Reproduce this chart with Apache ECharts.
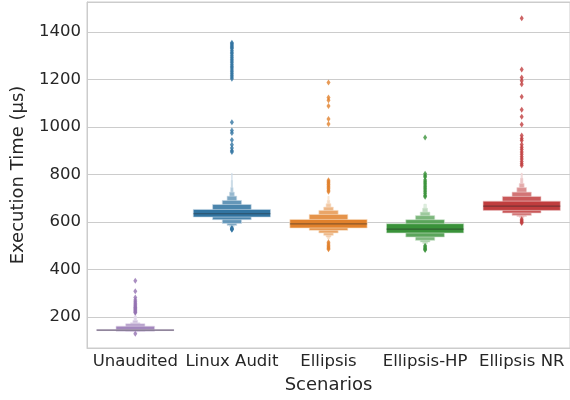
<!DOCTYPE html>
<html><head><meta charset="utf-8">
<script src="https://cdn.jsdelivr.net/npm/echarts@6/dist/echarts.min.js"></script>
<style>html,body{margin:0;padding:0;background:#fff}#c{width:570px;height:400px}</style>
</head><body><div id="c"></div>
<script>
const categories = ['Unaudited', 'Linux Audit', 'Ellipsis', 'Ellipsis-HP', 'Ellipsis NR'];
const palette = ['#9372b2', '#3274a1', '#e1812c', '#3a923a', '#c03d3e'];
const yTicks = [200, 400, 600, 800, 1000, 1200, 1400];
const medians = [145, 635, 592, 570, 667];

// letter values, from the quartiles outward
const unauditedLower = [143, 141, 140, 139, 138, 137, 136];
const unauditedUpper = [148, 162, 172, 176, 186, 203, 215];
const unauditedOutliers = [130, 353, 309, 282, 272, 265, 258, 252, 247, 242, 238, 234, 230, 226, 222, 218];

const linuxLower = [621, 610, 594, 586, 582, 578, 576, 573];
const linuxUpper = [653, 674, 691, 709, 726, 745, 775, 805];
const linuxOutliers = [568, 570, 572, 575, 1355, 1350, 1345, 1340, 1335, 1330, 1322, 1315, 1308, 1300, 1292, 1285, 1278, 1270, 1262, 1255, 1248, 1240, 1232, 1225, 1218, 1210, 1203, 1020, 985, 975, 945, 925, 912, 900, 895];

const ellipsisLower = [575, 565, 554, 544, 537, 531, 527];
const ellipsisUpper = [611, 632, 649, 663, 677, 691, 708];
const ellipsisOutliers = [515, 508, 500, 495, 490, 486, 1187, 1124, 1113, 1088, 1034, 1013, 776, 770, 764, 758, 752, 746, 740, 734, 728];

const hpLower = [554, 537, 523, 516, 510, 506];
const hpUpper = [593, 610, 627, 642, 658, 675];
const hpOutliers = [500, 495, 490, 486, 482, 956, 803, 795, 790, 777, 770, 763, 756, 749, 742, 735, 728, 720, 712, 706];

const nrLower = [649, 638, 628, 624, 620, 618, 616];
const nrUpper = [688, 708, 726, 745, 762, 784, 805];
const nrOutliers = [612, 606, 600, 596, 1458, 1242, 1208, 1195, 1180, 1127, 1073, 1043, 1010, 964, 952, 943, 926, 915, 905, 895, 885, 875, 865, 855, 845, 838];

const lowers = [unauditedLower, linuxLower, ellipsisLower, hpLower, nrLower];
const uppers = [unauditedUpper, linuxUpper, ellipsisUpper, hpUpper, nrUpper];
const outliers = [unauditedOutliers, linuxOutliers, ellipsisOutliers, hpOutliers, nrOutliers];

function mix(hex, t) {
  const r = parseInt(hex.slice(1, 3), 16), g = parseInt(hex.slice(3, 5), 16), b = parseInt(hex.slice(5, 7), 16);
  const f = c => Math.round(c + (255 - c) * t);
  return 'rgb(' + f(r) + ',' + f(g) + ',' + f(b) + ')';
}

// box items: [catIndex, level, lower, upper, nLevels], outermost first so the inner boxes lie on top
const boxData = [];
for (let ci = 0; ci < categories.length; ci++) {
  const k = lowers[ci].length;
  for (let l = k - 1; l >= 0; l--) boxData.push([ci, l, lowers[ci][l], uppers[ci][l], k]);
}
const medianData = medians.map((m, ci) => [ci, m]);

const chart = echarts.init(document.getElementById('c'), null, { renderer: 'canvas' });
const FONT = 'DejaVu Sans';

const series = [
  {
    type: 'custom',
    data: boxData,
    encode: { x: 0, y: [2, 3] },
    z: 2,
    renderItem: function (params, api) {
      const ci = api.value(0), lvl = api.value(1), lo = api.value(2), hi = api.value(3), k = api.value(4);
      const p1 = api.coord([ci, hi]);
      const p2 = api.coord([ci, lo]);
      const band = api.size([1, 0])[0];
      const w = band * 0.8 * Math.pow(0.5, lvl);
      const t = k > 1 ? 0.85 * lvl / (k - 1) : 0;
      return {
        type: 'rect',
        shape: { x: p1[0] - w / 2, y: p1[1], width: w, height: Math.max(p2[1] - p1[1], 1) },
        style: { fill: mix(palette[ci], t), stroke: mix(palette[ci], 0.75), lineWidth: 0.6 }
      };
    }
  },
  {
    type: 'custom',
    data: medianData,
    encode: { x: 0, y: 1 },
    z: 3,
    renderItem: function (params, api) {
      const p = api.coord([api.value(0), api.value(1)]);
      const band = api.size([1, 0])[0];
      const w = band * 0.8;
      return {
        type: 'line',
        shape: { x1: p[0] - w / 2, y1: p[1], x2: p[0] + w / 2, y2: p[1] },
        style: { stroke: 'rgba(38,38,38,0.45)', lineWidth: 1.2 }
      };
    }
  }
];
outliers.forEach((arr, ci) => {
  series.push({
    type: 'scatter',
    data: arr.map(v => [ci, v]),
    symbol: 'diamond',
    symbolSize: [4, 6],
    itemStyle: { color: palette[ci] },
    z: 4,
    silent: true
  });
});

chart.setOption({
  animation: false,
  grid: { left: 87, right: -1, top: 2, bottom: 52, show: true, borderColor: '#cccccc', borderWidth: 1 },
  xAxis: {
    type: 'category',
    data: categories,
    boundaryGap: true,
    name: 'Scenarios',
    nameLocation: 'middle',
    nameGap: 28,
    nameTextStyle: { fontFamily: FONT, fontSize: 18, color: '#262626' },
    axisLine: { show: true, lineStyle: { color: '#cccccc' } },
    axisTick: { show: false },
    splitLine: { show: false },
    axisLabel: { fontFamily: FONT, fontSize: 16.5, color: '#262626', margin: 5, interval: 0 }
  },
  yAxis: {
    type: 'value',
    min: 70,
    max: 1526,
    splitNumber: 7,
    name: 'Execution Time (µs)',
    nameLocation: 'middle',
    nameGap: 60,
    nameTextStyle: { fontFamily: FONT, fontSize: 18, color: '#262626' },
    axisLine: { show: true, lineStyle: { color: '#cccccc' } },
    axisTick: { show: false },
    splitLine: { show: true, lineStyle: { color: '#cccccc', width: 1 } },
    axisLabel: {
      fontFamily: FONT, fontSize: 16.5, color: '#262626', margin: 6,
      showMinLabel: false, showMaxLabel: false,
      formatter: v => (yTicks.indexOf(v) >= 0 ? String(v) : '')
    }
  },
  series: series
});
</script>
</body></html>
